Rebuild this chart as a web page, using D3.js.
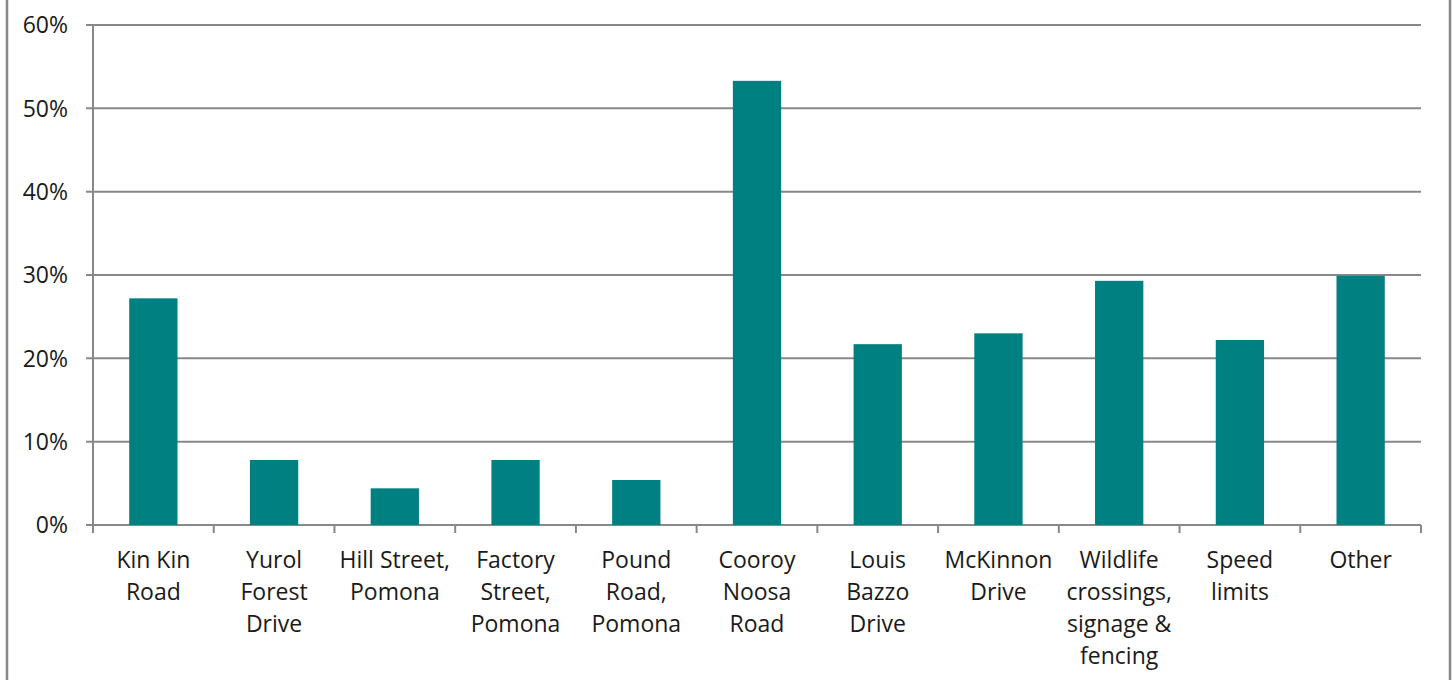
<!DOCTYPE html>
<html><head><meta charset="utf-8">
<script src="https://d3js.org/d3.v7.min.js"></script>
<style>html,body{margin:0;padding:0;background:#fff;overflow:hidden}</style>
</head><body><svg id="c" width="1453" height="680"></svg>
<script>
const categories = [
  ["Kin Kin","Road"],
  ["Yurol","Forest","Drive"],
  ["Hill Street,","Pomona"],
  ["Factory","Street,","Pomona"],
  ["Pound","Road,","Pomona"],
  ["Cooroy","Noosa","Road"],
  ["Louis","Bazzo","Drive"],
  ["McKinnon","Drive"],
  ["Wildlife","crossings,","signage &","fencing"],
  ["Speed","limits"],
  ["Other"]
];
const values = [27.2, 7.8, 4.4, 7.8, 5.4, 53.3, 21.7, 23.0, 29.3, 22.2, 29.9];
const yTicks = [0, 10, 20, 30, 40, 50, 60];

(function(){
const svg = d3.select("#c");
const font = "'Open Sans', 'Liberation Sans', sans-serif";
svg.append("line").attr("x1",7).attr("x2",7).attr("y1",0).attr("y2",680).attr("stroke","#888").attr("stroke-width",2.5);
svg.append("line").attr("x1",1450).attr("x2",1450).attr("y1",0).attr("y2",680).attr("stroke","#888").attr("stroke-width",2.5);

const L = 93, R = 1421, T = 25, B = 525;
const x = d3.scaleBand().domain(d3.range(categories.length)).range([L,R]).paddingInner(0.6).paddingOuter(0.3);
const xb = d3.scaleBand().domain(d3.range(categories.length)).range([L,R]);
const y = d3.scaleLinear().domain([0,60]).range([B,T]);

svg.append("g").selectAll("line").data(yTicks).join("line")
  .attr("x1",L-7).attr("x2",R).attr("y1",d=>y(d)).attr("y2",d=>y(d))
  .attr("stroke","#888").attr("stroke-width",2);
svg.append("line").attr("x1",L).attr("x2",L).attr("y1",T).attr("y2",B+7).attr("stroke","#888").attr("stroke-width",2);
svg.append("g").selectAll("line").data(d3.range(categories.length+1)).join("line")
  .attr("x1",d=>L+d*xb.step()).attr("x2",d=>L+d*xb.step())
  .attr("y1",B).attr("y2",B+8).attr("stroke","#888").attr("stroke-width",2);

svg.append("g").selectAll("rect").data(values).join("rect")
  .attr("x",(d,i)=>x(i)).attr("width",x.bandwidth())
  .attr("y",d=>y(d)).attr("height",d=>B-y(d))
  .attr("fill","#008080");

svg.append("g").selectAll("text").data(yTicks).join("text")
  .attr("x",68).attr("y",d=>y(d)).attr("dy","0.36em").attr("text-anchor","end")
  .attr("font-family",font).attr("font-size",23).attr("fill","#1a1a1a")
  .text(d=>d+"%");

const xl = svg.append("g").selectAll("text").data(categories).join("text")
  .attr("x",(d,i)=>xb(i)+xb.bandwidth()/2).attr("y",568)
  .attr("text-anchor","middle").attr("font-family",font).attr("font-size",23).attr("fill","#1a1a1a");
xl.selectAll("tspan").data(d=>d).join("tspan")
  .attr("x",function(){return this.parentNode.getAttribute("x");})
  .attr("dy",(d,i)=>i===0?0:32).text(d=>d);
})();
</script></body></html>
